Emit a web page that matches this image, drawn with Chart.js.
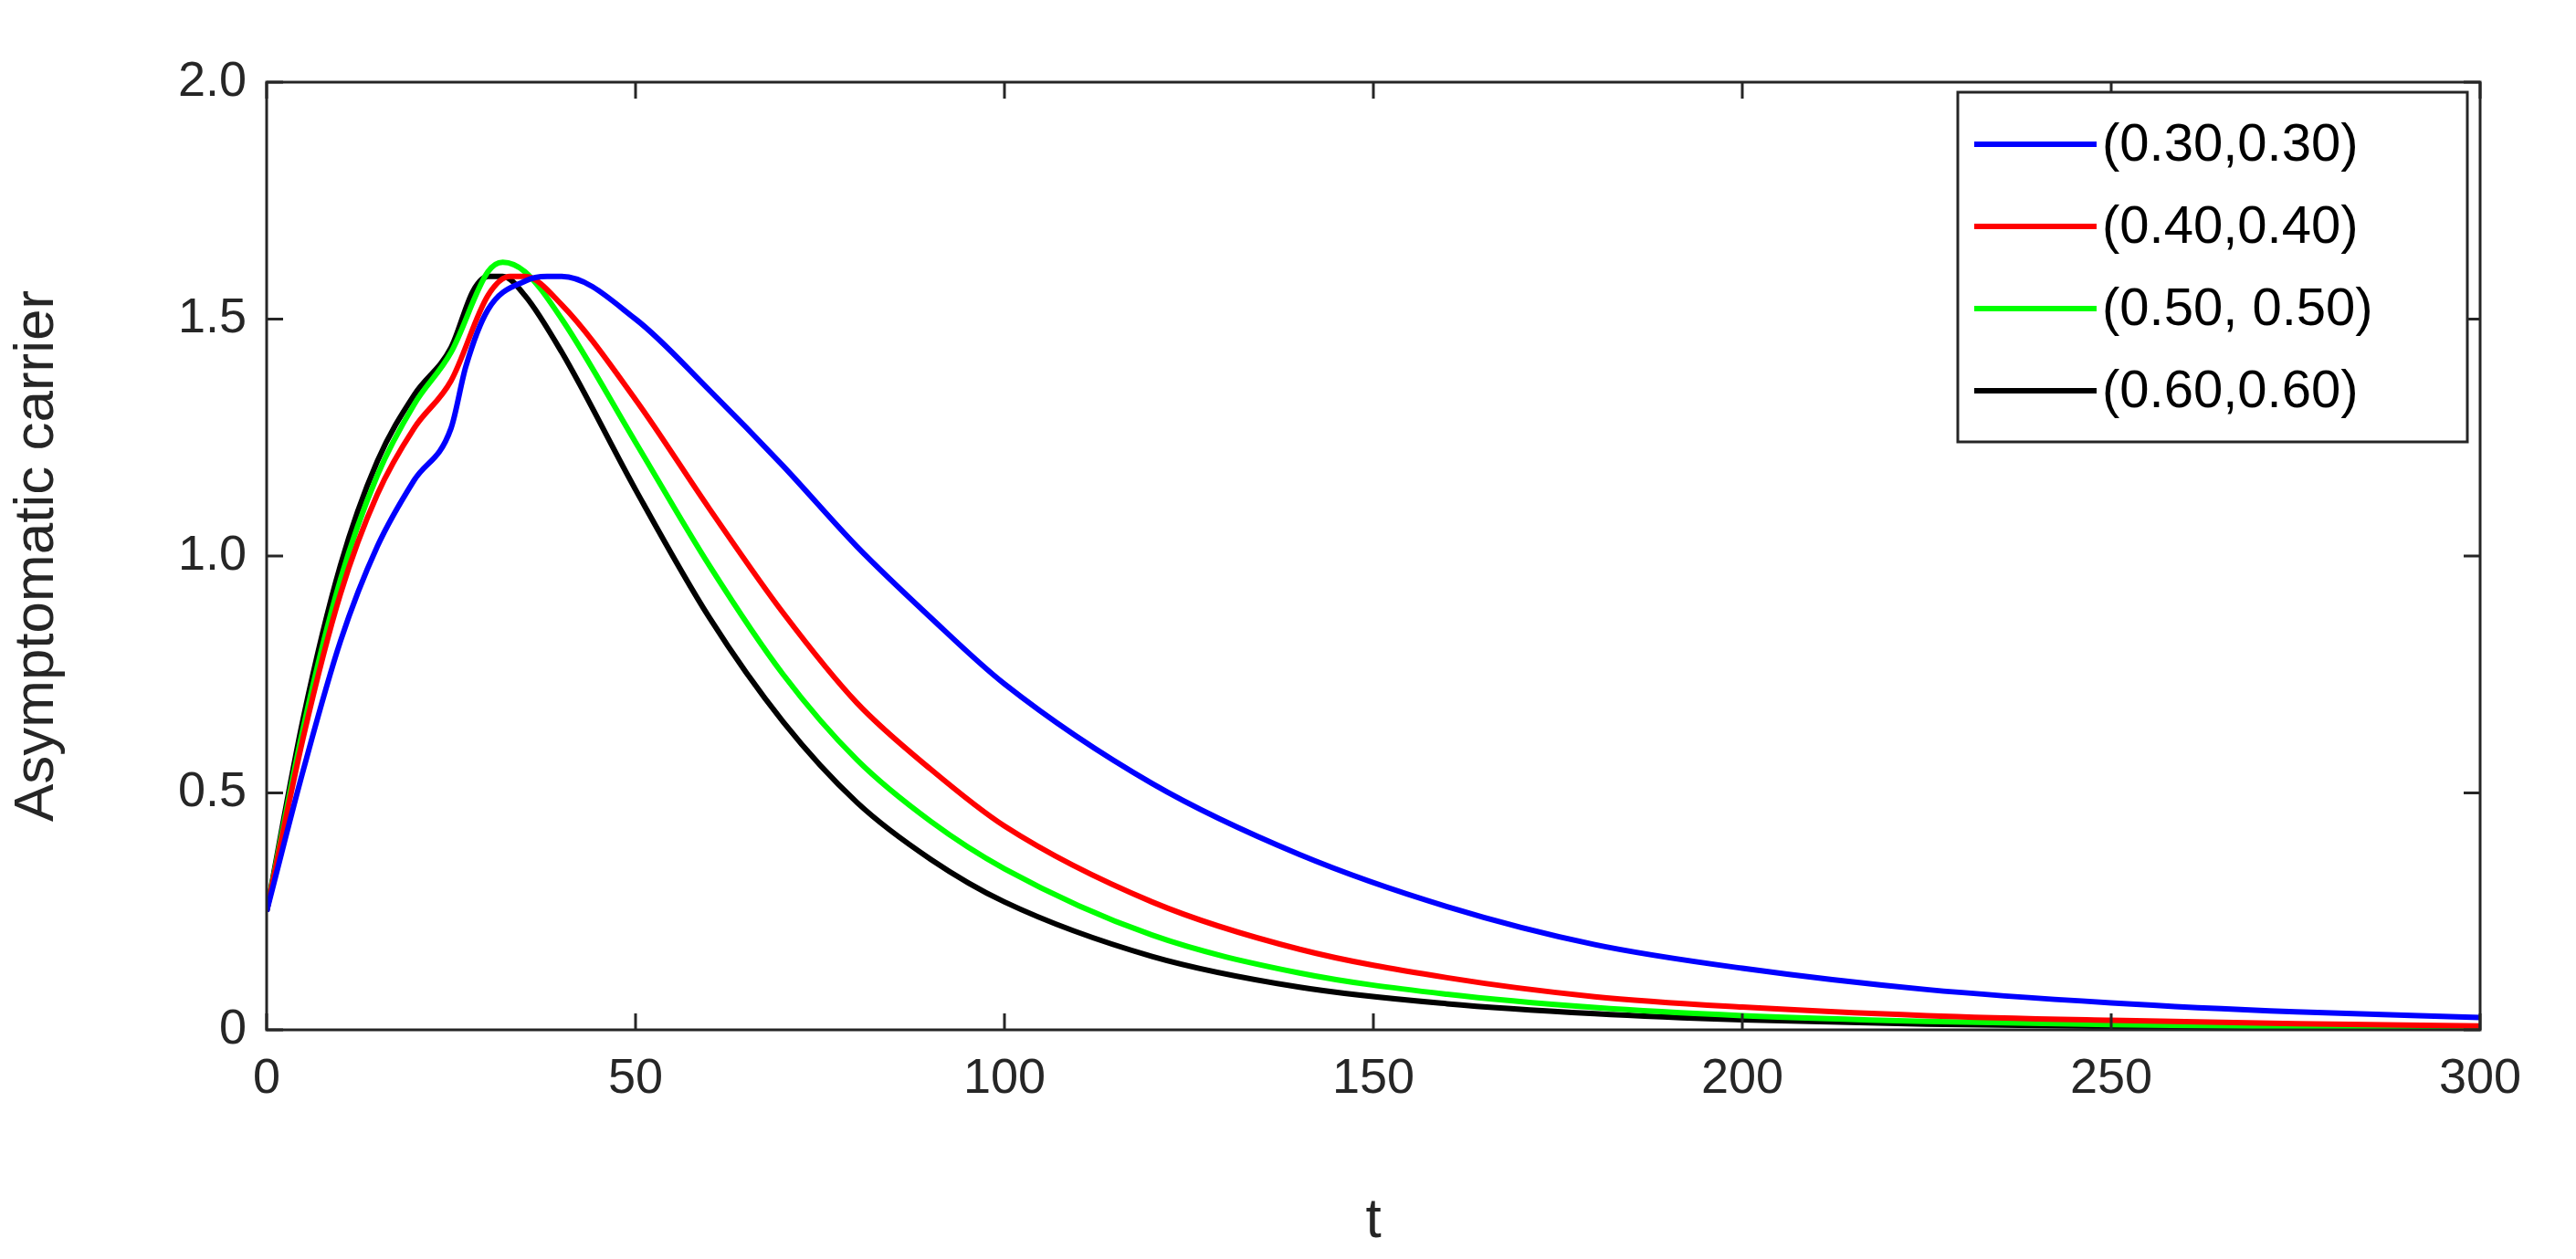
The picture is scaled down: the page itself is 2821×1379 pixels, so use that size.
<!DOCTYPE html>
<html>
<head>
<meta charset="utf-8">
<script src="https://cdn.jsdelivr.net/npm/chart.js@4/dist/chart.umd.min.js"></script>
<style>
  html, body { margin: 0; padding: 0; background: #fff; }
</style>
</head>
<body>
<canvas id="grafico" width="2821" height="1379"></canvas>
<script>
// ---- datos ----
const etiquetas = ['(0.30,0.30)', '(0.40,0.40)', '(0.50, 0.50)', '(0.60,0.60)'];
const colores = ['#0000ff', '#ff0000', '#00ff00', '#000000'];
const xTicks = [0, 50, 100, 150, 200, 250, 300];
const yTicks = [0, 0.5, 1, 1.5, 2];

const tAzul = [0, 5, 10, 15, 20, 25, 27, 30, 35, 38, 40, 50, 60, 70, 80, 90, 100, 120, 140, 160, 180, 200, 225, 250, 275, 300];
const yAzul = [0.25, 0.55, 0.82, 1.02, 1.16, 1.27, 1.40, 1.52, 1.58, 1.59, 1.59, 1.50, 1.35, 1.19, 1.02, 0.87, 0.73, 0.52, 0.37, 0.26, 0.18, 0.13, 0.085, 0.057, 0.038, 0.026];

const tRojo = [0, 5, 10, 15, 20, 25, 30, 33, 35, 40, 50, 60, 70, 80, 90, 100, 120, 140, 160, 180, 200, 225, 250, 275, 300];
const yRojo = [0.25, 0.62, 0.92, 1.13, 1.27, 1.37, 1.55, 1.59, 1.59, 1.53, 1.33, 1.10, 0.88, 0.69, 0.55, 0.43, 0.27, 0.17, 0.11, 0.07, 0.048, 0.03, 0.02, 0.013, 0.008];

const tVerde = [0, 5, 10, 15, 20, 25, 30, 32, 35, 40, 50, 60, 70, 80, 90, 100, 120, 140, 160, 180, 200, 225, 250, 275, 300];
const yVerde = [0.25, 0.64, 0.95, 1.17, 1.32, 1.43, 1.60, 1.62, 1.60, 1.50, 1.24, 0.98, 0.75, 0.57, 0.44, 0.34, 0.20, 0.12, 0.075, 0.047, 0.03, 0.018, 0.011, 0.007, 0.004];

const tNegro = [0, 5, 10, 15, 20, 25, 28, 30, 32, 35, 40, 50, 60, 70, 80, 90, 100, 120, 140, 160, 180, 200, 225, 250, 275, 300];
const yNegro = [0.25, 0.66, 0.98, 1.20, 1.34, 1.44, 1.56, 1.59, 1.59, 1.55, 1.43, 1.14, 0.87, 0.65, 0.48, 0.36, 0.27, 0.155, 0.09, 0.055, 0.034, 0.021, 0.012, 0.007, 0.004, 0.002];

function puntos(ts, ys) { return ts.map((t, i) => ({ x: t, y: ys[i] })); }
const series = [puntos(tAzul, yAzul), puntos(tRojo, yRojo), puntos(tVerde, yVerde), puntos(tNegro, yNegro)];

const FUENTE = '"Liberation Sans", Arial, sans-serif';

// ---- marco, ticks interiores y leyenda estilo MATLAB ----
const marcoMatlab = {
    id: 'marcoMatlab',
    afterDraw(chart) {
        const ctx = chart.ctx;
        const a = chart.chartArea;
        const sx = chart.scales.x, sy = chart.scales.y;
        ctx.save();
        ctx.strokeStyle = '#262626';
        ctx.lineWidth = 3;
        ctx.strokeRect(a.left, a.top, a.right - a.left, a.bottom - a.top);
        const L = 18;
        ctx.beginPath();
        xTicks.forEach(v => {
            const px = sx.getPixelForValue(v);
            ctx.moveTo(px, a.bottom); ctx.lineTo(px, a.bottom - L);
            ctx.moveTo(px, a.top); ctx.lineTo(px, a.top + L);
        });
        yTicks.forEach(v => {
            const py = sy.getPixelForValue(v);
            ctx.moveTo(a.left, py); ctx.lineTo(a.left + L, py);
            ctx.moveTo(a.right, py); ctx.lineTo(a.right - L, py);
        });
        ctx.stroke();

        // leyenda
        const bx = 2144, by = 101, bw = 558, bh = 383;
        ctx.fillStyle = '#fff';
        ctx.fillRect(bx, by, bw, bh);
        ctx.strokeStyle = '#262626';
        ctx.lineWidth = 3;
        ctx.strokeRect(bx, by, bw, bh);
        ctx.font = '58px ' + FUENTE;
        ctx.textBaseline = 'middle';
        chart.data.datasets.forEach((ds, i) => {
            const yy = by + 57 + i * 90;
            ctx.strokeStyle = ds.borderColor;
            ctx.lineWidth = 6;
            ctx.beginPath();
            ctx.moveTo(bx + 18, yy); ctx.lineTo(bx + 152, yy);
            ctx.stroke();
            ctx.fillStyle = '#000';
            ctx.fillText(ds.label, bx + 158, yy + 2);
        });
        ctx.restore();
    }
};

new Chart(document.getElementById('grafico'), {
    type: 'line',
    data: {
        datasets: series.map((d, i) => ({
            label: etiquetas[i],
            data: d,
            borderColor: colores[i],
            borderWidth: 6,
            pointRadius: 0,
            fill: false,
            cubicInterpolationMode: 'monotone'
        }))
    },
    options: {
        responsive: false,
        animation: false,
        devicePixelRatio: 1,
        layout: { padding: { top: 90, right: 105, left: 0, bottom: 0 } },
        plugins: { legend: { display: false }, tooltip: { enabled: false } },
        scales: {
            x: {
                type: 'linear', min: 0, max: 300,
                afterBuildTicks: s => { s.ticks = xTicks.map(v => ({ value: v })); },
                afterFit: s => { s.height = 251; },
                grid: { display: false },
                border: { display: false },
                ticks: { color: '#262626', font: { size: 54, family: FUENTE }, padding: 14, maxRotation: 0 },
                title: { display: true, text: 't', color: '#262626', font: { size: 62, family: FUENTE }, padding: { top: 6 } }
            },
            y: {
                type: 'linear', min: 0, max: 2,
                afterBuildTicks: s => { s.ticks = yTicks.map(v => ({ value: v })); },
                afterFit: s => { s.width = 292; },
                grid: { display: false },
                border: { display: false },
                ticks: { color: '#262626', font: { size: 54, family: FUENTE }, padding: 14 },
                title: { display: true, text: 'Asymptomatic carrier', color: '#262626', font: { size: 62, family: FUENTE }, padding: { bottom: 6 } }
            }
        }
    },
    plugins: [marcoMatlab]
});
</script>
</body>
</html>
